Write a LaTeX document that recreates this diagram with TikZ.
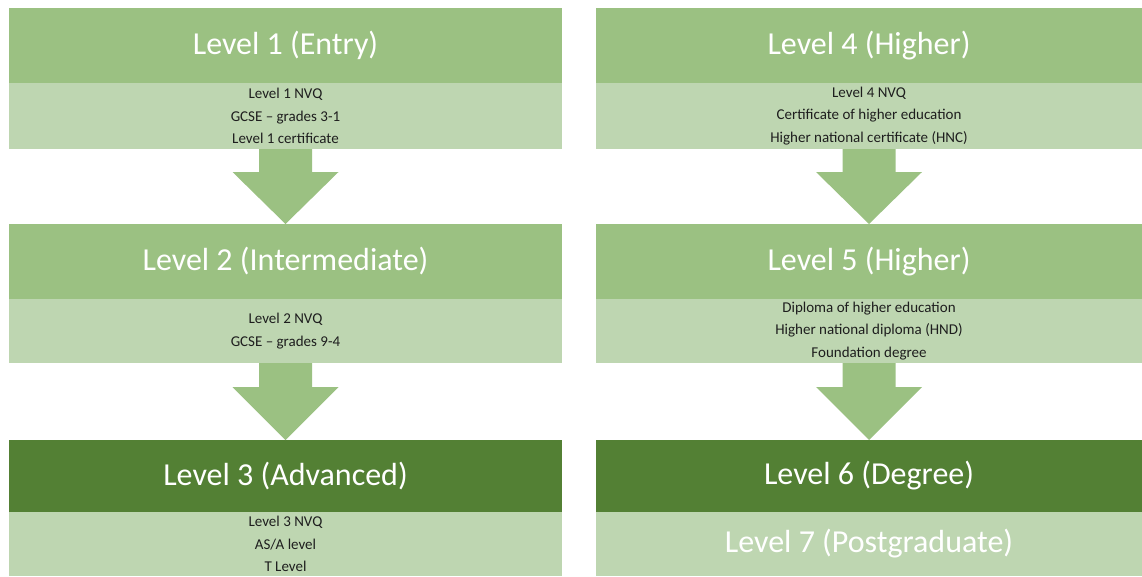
\documentclass[tikz,border=0pt]{standalone}
\usepackage{fontspec}
\setmainfont{Carlito}
\usetikzlibrary{calc}
\definecolor{hdrgreen}{RGB}{155,193,130}
\definecolor{subgreen}{RGB}{190,214,177}
\definecolor{darkgreen}{RGB}{83,128,52}
\definecolor{txtgray}{RGB}{30,30,30}
\newcommand\flowarrow[3]{%
  \fill[hdrgreen] ($(#1.south)+(-26.5,0)$) -- ($(#1.south)+(26.5,0)$) -- ($(#1.south)+(26.5,#3)$)
    -- ($(#1.south)+(53,#3)$) -- (#2.north) -- ($(#1.south)+(-53,#3)$) -- ($(#1.south)+(-26.5,#3)$) -- cycle;}
\begin{document}
\begin{tikzpicture}[x=1pt,y=-1pt,
  box/.style={rectangle, inner sep=0pt, outer sep=0pt, anchor=north west},
  hdrbox/.style={box, fill=hdrgreen, text=white, font=\fontsize{32}{38}\selectfont},
  darkbox/.style={box, fill=darkgreen, text=white, font=\fontsize{32}{38}\selectfont},
  subbox/.style={box, fill=subgreen, text=txtgray, align=center, font=\fontsize{15}{22.5}\selectfont},
  bigsub/.style={box, fill=subgreen, text=white, font=\fontsize{32}{38}\selectfont},
  leftcol/.style={minimum width=553pt},
  rightcol/.style={minimum width=546pt}]
\useasboundingbox (0,0) rectangle (1142,576);
% left column
\node[hdrbox, leftcol, minimum height=75pt] (h1) at (9,8) {Level 1 (Entry)};
\node[subbox, leftcol, minimum height=66pt] (s1) at (9,83) {Level 1 NVQ\\GCSE – grades 3-1\\Level 1 certificate};
\node[hdrbox, leftcol, minimum height=75pt] (h2) at (9,224) {Level 2 (Intermediate)};
\node[subbox, leftcol, minimum height=64pt] (s2) at (9,299) {Level 2 NVQ\\GCSE – grades 9-4};
\node[darkbox, leftcol, minimum height=72pt] (h3) at (9,440) {Level 3 (Advanced)};
\node[subbox, leftcol, minimum height=64pt] (s3) at (9,512) {Level 3 NVQ\\AS/A level\\T Level};
% right column
\node[hdrbox, rightcol, minimum height=75pt] (h4) at (596,8) {Level 4 (Higher)};
\node[subbox, rightcol, minimum height=66pt] (s4) at (596,83) {Level 4 NVQ\\Certificate of higher education\\Higher national certificate (HNC)};
\node[hdrbox, rightcol, minimum height=75pt] (h5) at (596,224) {Level 5 (Higher)};
\node[subbox, rightcol, minimum height=64pt] (s5) at (596,299) {Diploma of higher education\\Higher national diploma (HND)\\Foundation degree};
\node[darkbox, rightcol, minimum height=72pt] (h6) at (596,440) {Level 6 (Degree)};
\node[bigsub, rightcol, minimum height=64pt] (s7) at (596,512) {Level 7 (Postgraduate)};
% arrows
\flowarrow{s1}{h2}{23}
\flowarrow{s2}{h3}{24}
\flowarrow{s4}{h5}{23}
\flowarrow{s5}{h6}{24}
\end{tikzpicture}
\end{document}
